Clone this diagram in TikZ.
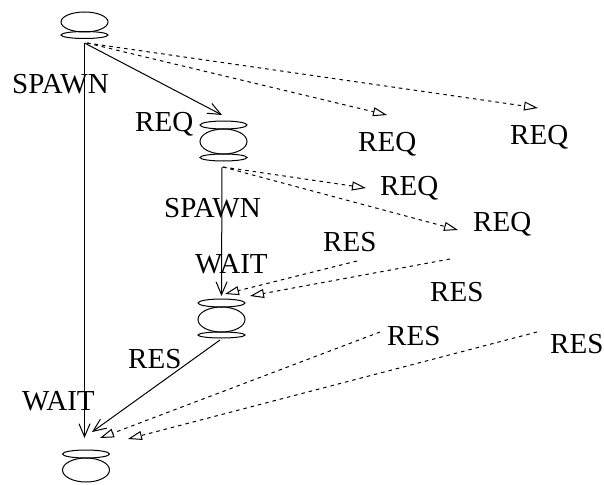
\documentclass[tikz,border=0pt]{standalone}
\usepackage{fontspec}
\setmainfont{Liberation Serif}
\usetikzlibrary{arrows.meta,shapes.geometric}
\begin{document}
\begin{tikzpicture}[x=1pt,y=-1pt,
  ov/.style={draw,ellipse,inner sep=0pt,minimum width=47pt,line width=1pt},
  lbl/.style={anchor=base west,inner sep=0pt,font=\fontsize{29}{29}\selectfont},
  solidarr/.style={line width=1pt,-{Straight Barb[length=13pt,width=11pt]}},
  dasharr/.style={line width=1pt,dash pattern=on 3.5pt off 4pt,-{Triangle[open,length=14pt,width=9pt]}}]
\useasboundingbox (0,0) rectangle (604,484);
% node A
\node[ov,minimum height=20pt] (a1) at (84.5,22) {};
\node[ov,minimum height=7pt] (a2) at (84.5,35) {};
% node B
\node[ov,minimum height=8pt] (b1) at (223.5,125) {};
\node[ov,minimum height=25pt] (b2) at (223.5,141.5) {};
\node[ov,minimum height=7pt] (b3) at (223.5,157.5) {};
% node C
\node[ov,minimum height=8pt] (c1) at (221.5,303) {};
\node[ov,minimum height=25pt] (c2) at (221.5,319.5) {};
\node[ov,minimum height=6pt] (c3) at (221.5,335) {};
% node D
\node[ov,minimum height=8pt] (d1) at (86,454) {};
\node[ov,minimum height=24pt] (d2) at (86,470) {};
% connector ends
\coordinate (aout) at (84.5,43);
\coordinate (aoutd) at (87,43);
\coordinate (din) at (84.5,438);
\coordinate (bin) at (222,115);
\coordinate (r1) at (387,115);
\coordinate (r2) at (538,108);
\coordinate (bout) at (222,167);
\coordinate (boutd) at (223,167);
\coordinate (cin) at (221.5,296);
\coordinate (r3) at (366,188);
\coordinate (r4) at (458,230);
\coordinate (s1) at (357,261);
\coordinate (s1t) at (225,294);
\coordinate (s2) at (450,259);
\coordinate (s2t) at (250,296);
\coordinate (cout) at (220,340);
\coordinate (dinc) at (92,432);
\coordinate (s3) at (380,332);
\coordinate (s3t) at (100,438);
\coordinate (s4) at (537,332);
\coordinate (s4t) at (128,439);
% connectors
\draw[solidarr] (aout) -- (din);
\draw[solidarr] (aout) -- (bin);
\draw[dasharr] (aoutd) -- (r1);
\draw[dasharr] (aoutd) -- (r2);
\draw[solidarr] (bout) -- (cin);
\draw[dasharr] (boutd) -- (r3);
\draw[dasharr] (boutd) -- (r4);
\draw[dasharr] (s1) -- (s1t);
\draw[dasharr] (s2) -- (s2t);
\draw[solidarr] (cout) -- (dinc);
\draw[dasharr] (s3) -- (s3t);
\draw[dasharr] (s4) -- (s4t);
% labels
\node[lbl] (t1) at (12,94) {SPAWN};
\node[lbl] (t2) at (135,131) {REQ};
\node[lbl] (t3) at (358,151.5) {REQ};
\node[lbl] (t4) at (510,144.5) {REQ};
\node[lbl] (t5) at (380,195.5) {REQ};
\node[lbl] (t6) at (164,217) {SPAWN};
\node[lbl] (t7) at (473,231.5) {REQ};
\node[lbl] (t8) at (323,251.5) {RES};
\node[lbl] (t9) at (195,273.5) {WAIT};
\node[lbl] (t10) at (430,301.5) {RES};
\node[lbl] (t11) at (387,345.5) {RES};
\node[lbl] (t12) at (550,353.5) {RES};
\node[lbl] (t13) at (128,368.5) {RES};
\node[lbl] (t14) at (22,410.5) {WAIT};
\end{tikzpicture}
\end{document}
